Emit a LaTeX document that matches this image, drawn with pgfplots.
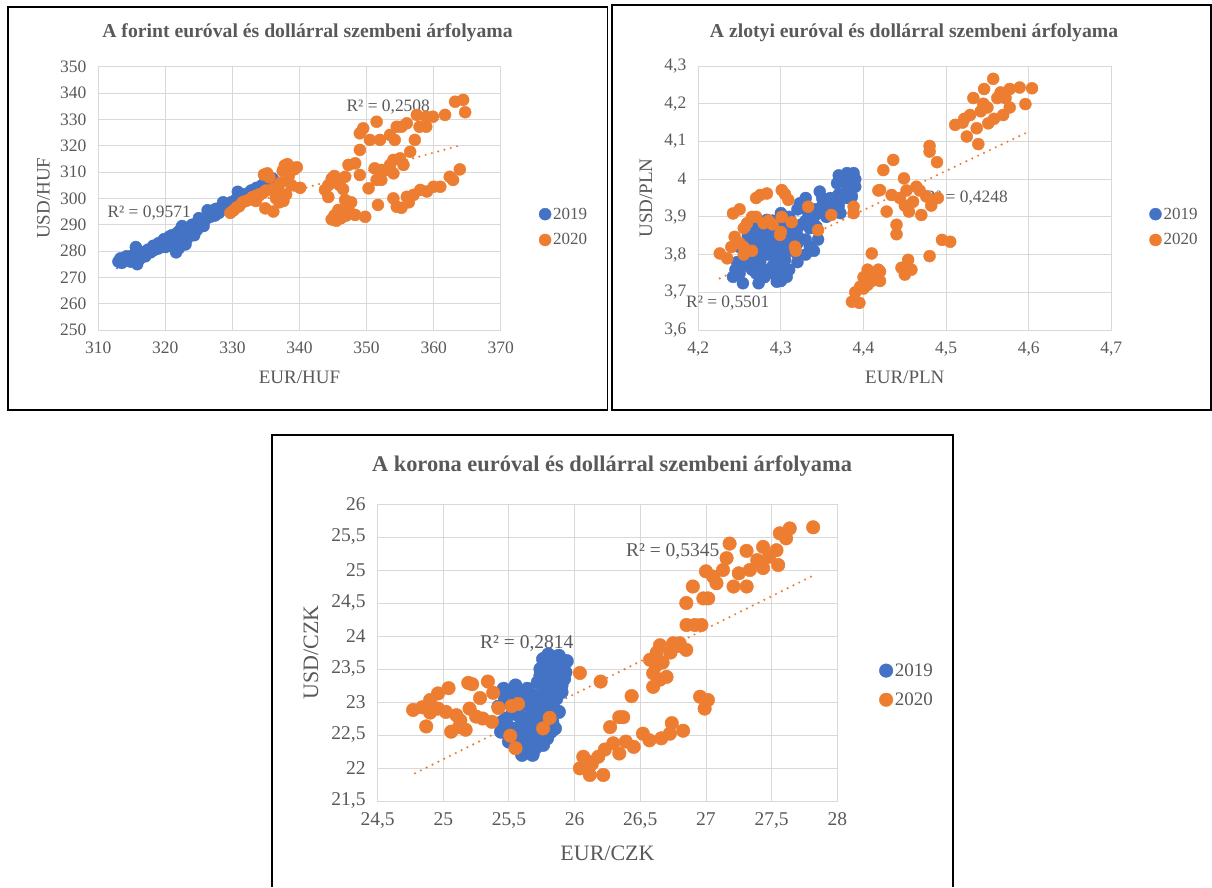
\documentclass[border=0pt]{standalone}
\usepackage{pgfplots}
\pgfplotsset{compat=1.18}
\usepackage{fontspec}
\setmainfont{Liberation Serif}
\definecolor{c19}{HTML}{4472C4}
\definecolor{c20}{HTML}{ED7D31}
\definecolor{txt}{HTML}{595959}
\definecolor{grd}{HTML}{D9D9D9}

\pgfplotsset{
  panel/.style={
    scale only axis, anchor=south west, clip=false,
    axis line style={draw=grd, line width=0.9pt},
    grid=major, grid style={draw=grd, line width=0.9pt},
    major tick length=0pt,
    tick label style={text=txt},
    /pgf/number format/assume math mode=true,
    /pgf/number format/use comma,
    xticklabel style={yshift=-8pt},
    yticklabel style={xshift=-8.5pt},
    legend cell align=left,
    legend style={draw=none, fill=none, anchor=west, inner sep=0pt,
      text=txt, row sep=9pt},
    legend image code/.code={\draw[#1] plot coordinates {(0pt,0pt)};},
  },
  top/.style={panel, tick label style={font=\fontsize{17.5}{20}\selectfont},
    legend style={font=\fontsize{17}{20}\selectfont}},
  bot/.style={panel, tick label style={font=\fontsize{19.5}{23}\selectfont},
    legend style={font=\fontsize{19}{22}\selectfont, row sep=11pt}},
  s19/.style={only marks, mark=*, mark size=#1, color=c19, mark options={draw=c19, fill=c19}},
  s20/.style={only marks, mark=*, mark size=#1, color=c20, mark options={draw=c20, fill=c20}},
  tr/.style={color=#1, line width=2.4pt, line cap=round, dash pattern=on 0pt off 6.5pt, forget plot},
}

\begin{document}
\begin{tikzpicture}
\path[use as bounding box] (0pt,0pt) rectangle (1212pt,-887pt);
% frames
\draw[black, line width=1.3pt] (8pt,-7pt) rectangle (607.5pt,-410pt);
\draw[black, line width=1.3pt] (612pt,-5pt) rectangle (1211pt,-410pt);
\draw[black, line width=1.3pt] (272pt,-887pt) -- (272pt,-435pt) -- (953pt,-435pt) -- (953pt,-887pt);

% ---------- forint ----------
\begin{axis}[top, at={(98.3pt,-330pt)}, width=402.4pt, height=263.3pt,
  xmin=310, xmax=370, ymin=250, ymax=350, xtick distance=10, ytick distance=10,
  legend style={at={(1.095,0.391)}}]
\addplot[s19=6pt] coordinates {
(313,276) (313.5,275.5) (314,276.5) (314.5,277.5) (314.8,276) (315.2,278.5) (315.6,281.5)
(315.8,275) (316.2,277) (316.6,279.5) (317,278) (317.4,280.5) (317.8,279.5) (318.2,282)
(318.6,281) (319,283) (319.4,282) (319.8,284.5) (320.2,283) (320.6,285.5) (321,286)
(321.3,282) (321.6,279.5) (321.9,284) (322.2,288) (322.5,289.5) (322.8,286) (323.2,284.5)
(323.6,288.5) (324,290) (324.3,286) (324.7,288) (325,292.5) (325.3,290) (325.7,289.5)
(326,292) (326.3,295.5) (326.7,293) (327,294.5) (327.4,293.5) (327.8,295.5) (328.2,296.5)
(328.6,298.5) (329,297) (329.4,296) (329.8,298.5) (330.2,297.5) (330.5,299.5) (330.8,302.5)
(331.2,300) (331.6,301.5) (332,300.5) (332.4,302) (332.8,303) (333.2,302.5) (333.6,304)
(334,303.5) (334.4,305) (334.8,304.5) (335.2,306) (335.6,307) (336,307.5) (336.2,306)
(319,281) (320,281.5) (318,280) (323,287) (325.5,291) (327.5,296)
(313.3,277.2) (314.2,278) (315,277) (316,280) (317.2,279) (318.4,280.5) (319.6,283.5)
(320.8,284) (321.5,285) (322,286.5) (322.6,287.5) (323.4,286.5) (324.2,288) (324.8,289.5)
(325.6,292) (326.4,293) (327.2,295) (328,294.5) (328.8,296.5) (329.6,297.5) (330.4,298.5)
(331,299.5) (331.8,300.5) (332.6,301.5) (333.4,303) (334.2,304) (335,305) (335.8,305.5)
(321,283) (322.4,283) (323,282.5) (322,281) (320.5,282) (321.8,287)};
\addlegendentry{2019}
\addplot[s20=6pt] coordinates {
(329.7,294.5) (330.2,295.5) (330.6,296.5) (331,297) (331.5,298.5) (332,299) (332.5,299.5)
(333,300.5) (333.5,301) (334,301.5) (334.5,302) (335,303) (334.7,309) (335.2,309.5)
(335.5,308) (336,303.5) (336.4,302) (336.8,304.5) (337.2,306) (337.5,310.5) (337.8,312.5)
(338.2,313) (338.6,312) (338.4,308.5) (338,301.5) (337.6,299) (339.2,311) (339.6,311.8)
(340.1,304) (334.9,296.2) (336.1,295) (333.5,299) (336.5,300) (337,298.5) (338.8,305)
(343.8,303.2) (344.3,305) (344.8,307.5) (345.2,308.5) (345.6,306) (346,305) (346.5,303.5)
(346.8,308.2) (347.3,312.7) (348.3,313.3) (349,308.9) (350.3,303.8) (344.8,292) (345.2,293.5)
(345.8,295.6) (346.2,292.5) (346.8,299.4) (347.3,295.8) (347.7,298.5) (348.3,293.7) (349.8,293)
(345.5,291.5) (347,293.5) (344.3,300.5)
(349,324.7) (349.5,326.6) (349,318.4) (351.5,329.1) (350.5,322.2) (352,322.2) (353.5,324.1)
(354.5,327.2) (356,328.5) (357.5,331.7) (358.9,331) (359.9,331) (361.7,331.7) (363.2,336.7)
(364.4,337.4) (364.7,332.7) (357.2,322.2) (357.9,327.2) (358.9,327.2) (354.2,322.2) (355.2,327.2)
(351.2,311.4) (351.5,307) (352.2,307) (353.5,312.7) (354,314.6) (355,315.2) (356.5,317.7)
(354,309.5) (355.5,312.7) (353,310.8) (352.2,310.8)
(351.7,297.5) (354,300) (354.5,296.8) (355.2,296.4) (356,300.6) (357,301.3) (358,303.2)
(359,302.6) (360,304.4) (361,304.4) (362.4,308.2) (362.9,307) (363.9,311) (356.3,298.5)};
\addlegendentry{2020}
\addplot[tr=c19] coordinates {(312.8,273.5) (336.3,307.5)};
\addplot[tr=c20] coordinates {(328.9,295.6) (364.2,320.3)};
\node[anchor=west, text=txt, font=\fontsize{17.4}{20}\selectfont] at (axis cs:310.85,294.3) {R² = 0,9571};
\node[anchor=west, text=txt, font=\fontsize{17.4}{20}\selectfont] at (axis cs:346.5,334.8) {R² = 0,2508};
\end{axis}

% ---------- zloty ----------
\begin{axis}[top, at={(698.3pt,-330pt)}, width=413pt, height=264pt,
  xmin=4.2, xmax=4.7, ymin=3.6, ymax=4.3,
  xtick={4.2,4.3,4.4,4.5,4.6,4.7}, ytick={3.6,3.7,3.8,3.9,4.0,4.1,4.2,4.3},
  legend style={at={(1.092,0.39)}}]
\addplot[s19=6pt] coordinates {
(4.242,3.741) (4.245,3.76) (4.25,3.75) (4.254,3.724) (4.255,3.78) (4.26,3.8) (4.263,3.821)
(4.265,3.76) (4.27,3.82) (4.27,3.79) (4.273,3.724) (4.275,3.78) (4.28,3.76) (4.28,3.84)
(4.283,3.892) (4.285,3.8) (4.29,3.86) (4.29,3.82) (4.29,3.77) (4.295,3.728) (4.3,3.8)
(4.3,3.88) (4.305,3.786) (4.305,3.84) (4.307,3.741) (4.31,3.87) (4.311,3.892) (4.315,3.82)
(4.32,3.85) (4.323,3.936) (4.325,3.88) (4.33,3.92) (4.33,3.95) (4.335,3.821) (4.335,3.87)
(4.34,3.9) (4.343,3.874) (4.345,3.84) (4.347,3.967) (4.35,3.93) (4.355,3.9) (4.36,3.93)
(4.365,3.94) (4.368,3.989) (4.372,3.91) (4.375,4.005) (4.38,4.016) (4.388,4.016) (4.385,3.99)
(4.38,3.97) (4.39,4.0) (4.386,3.954) (4.37,3.93) (4.247,3.78) (4.26,3.83) (4.3,3.9)
(4.285,3.88) (4.275,3.85) (4.32,3.8) (4.31,3.83) (4.295,3.84) (4.28,3.87) (4.265,3.84)
(4.25,3.77) (4.26,3.77) (4.27,3.75) (4.28,3.74) (4.29,3.75) (4.3,3.76) (4.31,3.76)
(4.27,3.81) (4.28,3.8) (4.29,3.8) (4.3,3.82) (4.31,3.81) (4.32,3.83) (4.33,3.84)
(4.29,3.84) (4.3,3.86) (4.31,3.85) (4.32,3.87) (4.33,3.89) (4.34,3.88) (4.35,3.91)
(4.36,3.91) (4.35,3.95) (4.34,3.92) (4.32,3.92) (4.31,3.9) (4.3,3.91) (4.29,3.89)
(4.27,3.87) (4.26,3.85) (4.25,3.82) (4.28,3.82) (4.3,3.78) (4.32,3.78) (4.34,3.81)
(4.33,3.8) (4.36,3.95) (4.37,3.96) (4.38,3.95) (4.38,3.99) (4.39,3.98) (4.37,4.01) (4.3,3.73)};
\addlegendentry{2019}
\addplot[s20=6pt] coordinates {
(4.226,3.803) (4.235,3.79) (4.24,3.82) (4.244,3.847) (4.25,3.83) (4.255,3.8) (4.242,3.909)
(4.25,3.92) (4.259,3.883) (4.265,3.9) (4.27,3.9) (4.279,3.883) (4.285,3.89) (4.29,3.88)
(4.255,3.87) (4.265,3.81) (4.27,3.95) (4.275,3.958) (4.283,3.962) (4.301,3.971) (4.305,3.96)
(4.309,3.945) (4.301,3.9) (4.299,3.852) (4.3,3.86) (4.313,3.886) (4.317,3.821) (4.318,3.81)
(4.333,3.927) (4.345,3.865) (4.361,3.905) (4.255,3.82)
(4.388,3.927) (4.388,3.91) (4.418,3.97) (4.42,3.971) (4.424,4.024) (4.436,4.051) (4.434,3.958)
(4.444,3.95) (4.452,3.97) (4.464,3.98) (4.476,3.954) (4.449,4.002) (4.49,3.95) (4.482,3.93)
(4.47,3.905) (4.428,3.914) (4.44,3.879) (4.44,3.854) (4.455,3.914) (4.46,3.94) (4.45,3.93)
(4.48,4.088) (4.48,4.073) (4.489,4.045) (4.495,3.839) (4.505,3.834) (4.48,3.796) (4.468,3.97)
(4.386,3.675) (4.395,3.672) (4.396,3.715) (4.39,3.7) (4.4,3.74) (4.405,3.76) (4.41,3.73)
(4.41,3.803) (4.415,3.75) (4.42,3.755) (4.42,3.73) (4.4,3.71) (4.418,3.76) (4.454,3.786)
(4.446,3.765) (4.45,3.747) (4.458,3.76) (4.405,3.72)
(4.511,4.144) (4.52,4.15) (4.525,4.113) (4.522,4.16) (4.529,4.17) (4.533,4.215) (4.537,4.135)
(4.539,4.093) (4.542,4.18) (4.546,4.239) (4.55,4.19) (4.551,4.148) (4.557,4.266) (4.562,4.215)
(4.566,4.23) (4.569,4.17) (4.577,4.239) (4.577,4.19) (4.589,4.243) (4.596,4.199) (4.604,4.241)
(4.545,4.2) (4.558,4.16) (4.572,4.215)};
\addlegendentry{2020}
\addplot[tr=c19] coordinates {(4.24,3.745) (4.39,3.99)};
\addplot[tr=c20] coordinates {(4.226,3.737) (4.6,4.126)};
\node[anchor=west, text=txt, font=\fontsize{17.4}{20}\selectfont] at (axis cs:4.181,3.671) {R² = 0,5501};
\node[anchor=west, text=txt, font=\fontsize{17.4}{20}\selectfont] at (axis cs:4.4696,3.949) {R² = 0,4248};
\end{axis}

% ---------- korona ----------
\begin{axis}[bot, at={(377.6pt,-801pt)}, width=459.7pt, height=297pt,
  xmin=24.5, xmax=28, ymin=21.5, ymax=26, xtick distance=0.5, ytick distance=0.5,
  legend style={at={(1.091,0.39)}}]
\addplot[s19=6.8pt] coordinates {
(25.42,22.93) (25.44,22.55) (25.46,23.2) (25.48,22.75) (25.5,23.1) (25.5,22.4) (25.53,22.85)
(25.55,23.25) (25.56,22.6) (25.58,22.3) (25.6,22.2) (25.6,23.0) (25.62,22.75) (25.64,23.2)
(25.66,22.45) (25.68,22.9) (25.7,23.1) (25.7,22.3) (25.72,22.65) (25.74,23.0) (25.76,22.35)
(25.78,22.8) (25.8,23.1) (25.82,22.55) (25.84,22.9) (25.86,23.05) (25.88,22.85) (25.9,23.15)
(25.58,22.5) (25.52,22.6) (25.65,22.95) (25.75,22.6)
(25.72,23.3) (25.74,23.5) (25.76,23.65) (25.78,23.4) (25.8,23.72) (25.82,23.55) (25.84,23.3)
(25.86,23.68) (25.88,23.45) (25.9,23.6) (25.92,23.35) (25.94,23.62) (25.9,23.25) (25.78,23.2)
(25.85,23.15)
(25.45,22.7) (25.47,23.05) (25.5,22.55) (25.53,23.15) (25.55,22.45) (25.57,22.8) (25.6,22.95)
(25.62,22.35) (25.63,22.6) (25.65,23.1) (25.67,22.75) (25.69,22.55) (25.71,22.95) (25.73,22.45)
(25.75,22.8) (25.77,23.05) (25.79,22.45) (25.81,22.95) (25.83,22.7) (25.85,22.6) (25.87,23.2)
(25.89,23.35) (25.91,23.5) (25.93,23.45) (25.8,23.3) (25.76,23.3) (25.82,23.42) (25.86,23.52)
(25.74,23.4) (25.78,23.6) (25.88,23.7) (25.6,23.15) (25.65,22.3) (25.68,22.2) (25.7,22.55)};
\addlegendentry{2019}
\addplot[s20=6.8pt] coordinates {
(24.77,22.88) (24.87,22.63) (24.9,23.03) (24.96,23.13) (25.04,23.21) (25.19,23.29) (25.34,23.31)
(25.28,23.06) (25.38,23.14) (24.96,22.9) (25.02,22.85) (25.06,22.55) (25.13,22.72) (25.2,22.9)
(25.17,22.58) (25.25,22.78) (25.3,22.75) (25.37,22.7) (25.12,22.62) (24.9,22.84) (25.42,22.91)
(25.22,23.27) (24.84,22.92) (25.1,22.8)
(25.52,22.94) (25.57,22.97) (25.81,22.76) (25.76,22.6) (25.51,22.49) (25.55,22.3)
(26.04,23.44) (26.198,23.31)
(26.434,23.09) (26.34,22.77) (26.37,22.77) (26.27,22.62) (26.066,22.17) (26.04,21.995) (26.116,21.894)
(26.218,21.894) (26.13,22.06) (26.18,22.17) (26.294,22.374) (26.34,22.22) (26.45,22.32) (26.52,22.52)
(26.57,22.42) (26.66,22.45) (26.725,22.52) (26.74,22.68) (26.826,22.565) (26.955,23.08) (27.015,23.03)
(26.99,22.9) (26.23,22.28) (26.1,22.1) (26.39,22.4)
(26.852,24.167) (26.915,24.167) (26.965,24.167) (26.8,23.89) (26.75,23.89) (26.65,23.86) (26.574,23.64)
(26.625,23.75) (26.73,23.75) (26.598,23.435) (26.7,23.38) (26.598,23.23) (26.8,23.85) (26.85,23.79)
(26.67,23.6) (26.65,23.34) (26.62,23.55)
(27.816,25.647) (27.638,25.63) (27.562,25.556) (27.61,25.48) (27.18,25.4) (27.309,25.29) (27.435,25.35)
(27.537,25.3) (27.55,25.076) (27.435,25.03) (27.334,25.0) (27.31,24.75) (27.21,24.75) (27.157,25.18)
(27.055,24.9) (27.0,24.98) (26.9,24.75) (27.017,24.57) (26.98,24.57) (26.85,24.5) (27.13,25.0)
(27.25,24.95) (27.39,25.15) (27.08,24.8) (27.48,25.2) (27.6,25.55)};
\addlegendentry{2020}
\addplot[tr=c19] coordinates {(25.42,22.65) (25.94,23.3)};
\addplot[tr=c20] coordinates {(24.785,21.92) (27.8,24.9)};
\node[anchor=west, text=txt, font=\fontsize{19.5}{23}\selectfont] at (axis cs:25.254,23.89) {R² = 0,2814};
\node[anchor=west, text=txt, font=\fontsize{19.5}{23}\selectfont] at (axis cs:26.365,25.28) {R² = 0,5345};
\end{axis}

% titles and axis labels
\node[text=txt, font=\fontsize{19.7}{23}\selectfont\bfseries] at (307.5pt,-33pt) {A forint euróval és dollárral szembeni árfolyama};
\node[text=txt, font=\fontsize{19.7}{23}\selectfont\bfseries] at (914pt,-33pt) {A zlotyi euróval és dollárral szembeni árfolyama};
\node[text=txt, font=\fontsize{22.4}{26}\selectfont\bfseries] at (612pt,-466pt) {A korona euróval és dollárral szembeni árfolyama};
\node[text=txt, font=\fontsize{19}{22}\selectfont] at (299.5pt,-377pt) {EUR/HUF};
\node[text=txt, font=\fontsize{19}{22}\selectfont, rotate=90] at (43.5pt,-198.3pt) {USD/HUF};
\node[text=txt, font=\fontsize{19}{22}\selectfont] at (904.8pt,-377pt) {EUR/PLN};
\node[text=txt, font=\fontsize{19}{22}\selectfont, rotate=90] at (646pt,-198pt) {USD/PLN};
\node[text=txt, font=\fontsize{22}{26}\selectfont] at (607.5pt,-853pt) {EUR/CZK};
\node[text=txt, font=\fontsize{22}{26}\selectfont, rotate=90] at (311pt,-652.5pt) {USD/CZK};
\end{tikzpicture}
\end{document}
